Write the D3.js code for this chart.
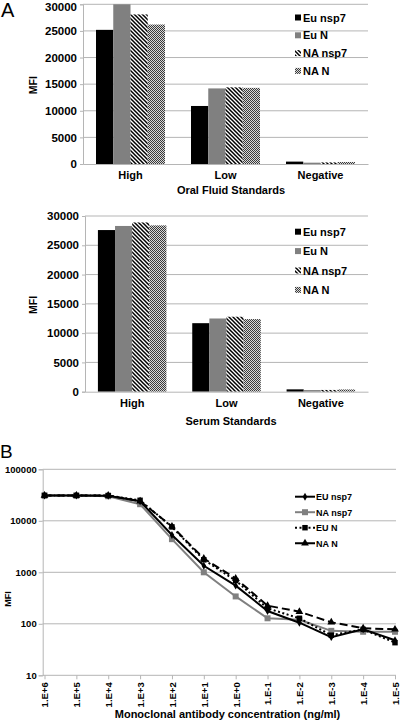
<!DOCTYPE html>
<html><head><meta charset="utf-8">
<script src="https://cdn.jsdelivr.net/npm/d3@7"></script>
<style>
body{margin:0;background:#fff;}
svg{display:block;font-family:"Liberation Sans",Arial,sans-serif;}
</style></head>
<body><svg id="c" width="400" height="721"></svg>
<script>
// ---------- Data ----------
const barCategories = ["High", "Low", "Negative"];
const barSeries = ["Eu nsp7", "Eu N", "NA nsp7", "NA N"];
const barTicks = [0, 5000, 10000, 15000, 20000, 25000, 30000];
// Oral fluid standards
const oralEuNsp7 = [25200, 10900, 450];
const oralEuN    = [30000, 14200, 250];
const oralNaNsp7 = [28100, 14400, 300];
const oralNaN    = [26200, 14300, 380];
// Serum standards
const serumEuNsp7 = [27600, 11700, 400];
const serumEuN    = [28300, 12500, 280];
const serumNaNsp7 = [28900, 12800, 300];
const serumNaN    = [28400, 12400, 380];

const concLabels = ["1.E+6","1.E+5","1.E+4","1.E+3","1.E+2","1.E+1","1.E+0","1.E-1","1.E-2","1.E-3","1.E-4","1.E-5"];
const lineSeries = ["EU nsp7", "NA nsp7", "EU N", "NA N"];
const euNsp7 = [31000, 31000, 30500, 24000, 5300, 1340, 550, 177, 105, 55, 78, 48];
const naNsp7 = [31000, 31000, 30000, 21000, 4400, 1000, 340, 128, 120, 73, 70, 70];
const euN    = [31000, 31000, 31000, 25000, 7600, 1750, 690, 200, 128, 60, 78, 43];
const naN    = [31000, 31000, 31000, 24000, 7800, 1850, 760, 225, 172, 107, 82, 78];
const logTicks = [10, 100, 1000, 10000, 100000];

// ---------- Setup ----------
const svg = d3.select("#c");
svg.append("rect").attr("width",400).attr("height",721).attr("fill","#fff");
const defs = svg.append("defs");
const hatch = defs.append("pattern").attr("id","hatch").attr("patternUnits","userSpaceOnUse")
  .attr("width",4).attr("height",4);
hatch.append("rect").attr("width",4).attr("height",4).attr("fill","#fff");
hatch.append("path").attr("d","M-1,-1L5,5M3,-1L5,1M-1,3L1,5").attr("stroke","#000").attr("stroke-width",1.5);
const checker = defs.append("pattern").attr("id","checker").attr("patternUnits","userSpaceOnUse")
  .attr("width",2).attr("height",2);
checker.append("rect").attr("width",2).attr("height",2).attr("fill","#d8d8d8");
checker.append("rect").attr("width",1).attr("height",1).attr("fill","#3a3a3a");
checker.append("rect").attr("x",1).attr("y",1).attr("width",1).attr("height",1).attr("fill","#3a3a3a");

const barFills = ["#000", "#808080", "url(#hatch)", "url(#checker)"];
const gridColor = "#b5b5b5";

function barChart(o) {
  const x = d3.scaleBand().domain(barCategories).range([o.x0, o.x1]).padding(0);
  const xs = d3.scaleBand().domain(barSeries).range([0, x.bandwidth()]).paddingInner(0).paddingOuter(0.754);
  const y = d3.scaleLinear().domain([0, 30000]).range([o.y0, o.y1]);
  const g = svg.append("g");
  // grid
  g.selectAll("line.grid").data(barTicks.filter(d => d > 0)).join("line")
    .attr("x1", o.x0).attr("x2", o.x1).attr("y1", d => y(d)).attr("y2", d => y(d))
    .attr("stroke", gridColor).attr("stroke-width", 1);
  // y axis
  const ya = g.append("g").attr("transform", `translate(${o.x0},0)`)
    .call(d3.axisLeft(y).tickValues(barTicks).tickSize(3).tickPadding(3).tickFormat(d3.format("d")));
  ya.select(".domain").attr("stroke", gridColor);
  ya.selectAll(".tick line").attr("stroke", gridColor);
  ya.selectAll("text").attr("font-size", 11.5).attr("font-weight", "bold").attr("fill", "#000")
    .attr("font-family", "Liberation Sans, Arial, sans-serif")
    .attr("y", d => (y(d) < 8 ? 2.8 : 0));
  // bars
  const data = o.values;
  barSeries.forEach((s, i) => {
    g.selectAll(null).data(barCategories).join("rect")
      .attr("x", c => x(c) + xs(s)).attr("width", xs.bandwidth())
      .attr("y", (c, j) => y(data[i][j])).attr("height", (c, j) => y(0) - y(data[i][j]))
      .attr("fill", barFills[i]);
  });
  // x axis
  const xa = g.append("g").attr("transform", `translate(0,${o.y0})`)
    .call(d3.axisBottom(x).tickSize(0).tickPadding(0));
  xa.select(".domain").attr("stroke", gridColor);
  xa.selectAll("text").attr("font-size", 11).attr("font-weight", "bold").attr("fill", "#000")
    .attr("dy", null).attr("y", o.catDy).attr("font-family", "Liberation Sans, Arial, sans-serif");
  // titles
  g.append("text").attr("x", 231).attr("y", o.titleY).attr("text-anchor", "middle")
    .attr("font-size", 11).attr("font-weight", "bold").text(o.title);
  g.append("text").attr("transform", `translate(37,${(o.y0 + o.y1) / 2 + 1}) rotate(-90)`)
    .attr("text-anchor", "middle").attr("font-size", 10.5).attr("font-weight", "bold").text("MFI");
  // legend
  barSeries.forEach((s, i) => {
    const cy = o.legY + i * o.legStep;
    g.append("rect").attr("x", 295).attr("y", cy - 3).attr("width", 6).attr("height", 6).attr("fill", barFills[i]);
    g.append("text").attr("x", 303).attr("y", cy + 4).attr("font-size", 11).attr("font-weight", "bold").text(s);
  });
}

barChart({x0: 83, x1: 368, y0: 164, y1: 4.3, catDy: 15, titleY: 194, title: "Oral Fluid Standards",
  values: [oralEuNsp7, oralEuN, oralNaNsp7, oralNaN], legY: 17.5, legStep: 17.8});
barChart({x0: 85, x1: 368, y0: 391.7, y1: 216, catDy: 15, titleY: 425, title: "Serum Standards",
  values: [serumEuNsp7, serumEuN, serumNaNsp7, serumNaN], legY: 231.7, legStep: 19.4});

svg.append("text").attr("x", 1).attr("y", 17).attr("font-size", 20).text("A");
svg.append("text").attr("x", 0).attr("y", 458).attr("font-size", 19).text("B");

// ---------- Line chart ----------
const xB = d3.scalePoint().domain(concLabels).range([44.5, 395]);
const yB = d3.scaleLog().domain([10, 100000]).range([675.3, 469.3]);
const gB = svg.append("g");
gB.selectAll("line.grid").data(logTicks.filter(d => d > 10)).join("line")
  .attr("x1", 42.7).attr("x2", 396).attr("y1", d => yB(d)).attr("y2", d => yB(d))
  .attr("stroke", gridColor);
const yaB = gB.append("g").attr("transform", "translate(42.7,0)")
  .call(d3.axisLeft(yB).tickValues(logTicks).tickSize(4).tickPadding(2).tickFormat(d3.format("d")));
yaB.select(".domain").attr("stroke", gridColor);
yaB.selectAll(".tick line").attr("stroke", gridColor);
yaB.selectAll("text").attr("font-size", 9.5).attr("font-weight", "bold").attr("fill", "#000")
  .attr("font-family", "Liberation Sans, Arial, sans-serif");
const xaB = gB.append("g").attr("transform", "translate(0,675.3)")
  .call(d3.axisBottom(xB).tickSize(4).tickSizeOuter(0).tickPadding(0));
xaB.select(".domain").attr("stroke", gridColor).attr("d", "M42.7,0H396");
xaB.selectAll(".tick line").attr("stroke", gridColor);
xaB.selectAll("text").attr("font-size", 9.5).attr("font-weight", "bold").attr("fill", "#000")
  .attr("font-family", "Liberation Sans, Arial, sans-serif")
  .attr("text-anchor", "end").attr("dy", "0.35em").attr("y", 0)
  .attr("transform", "translate(0,7) rotate(-90)");
gB.append("text").attr("x", 227.5).attr("y", 718).attr("text-anchor", "middle")
  .attr("font-size", 11).attr("font-weight", "bold").text("Monoclonal antibody concentration (ng/ml)");
gB.append("text").attr("transform", "translate(11,599) rotate(-90)").attr("text-anchor", "middle")
  .attr("font-size", 9).attr("font-weight", "bold").text("MFI");

const lineStyles = [
  {data: euNsp7, color: "#000", dash: null, marker: "diamond", msize: 18},
  {data: naNsp7, color: "#808080", dash: null, marker: "square", msize: 36},
  {data: euN, color: "#000", dash: "2,2.5", marker: "square", msize: 30},
  {data: naN, color: "#000", dash: "8,4", marker: "triangle", msize: 26}
];
const symType = {diamond: d3.symbolDiamond, square: d3.symbolSquare, triangle: d3.symbolTriangle};
const line = d3.line().x((d, i) => xB(concLabels[i])).y(d => yB(d));
const drawOrder = [1, 0, 2, 3];
drawOrder.forEach(k => {
  const st = lineStyles[k];
  gB.append("path").attr("d", line(st.data)).attr("fill", "none").attr("stroke", st.color)
    .attr("stroke-width", 2).attr("stroke-dasharray", st.dash);
  gB.selectAll(null).data(st.data).join("path")
    .attr("transform", (d, i) => `translate(${xB(concLabels[i])},${yB(d)})`)
    .attr("d", d3.symbol().type(symType[st.marker]).size(st.msize)).attr("fill", st.color);
});
// legend
lineSeries.forEach((s, i) => {
  const st = lineStyles[i];
  const cy = 496.7 + i * 15.5;
  gB.append("line").attr("x1", 295).attr("x2", 315).attr("y1", cy).attr("y2", cy)
    .attr("stroke", st.color).attr("stroke-width", 2).attr("stroke-dasharray", st.dash);
  gB.append("path").attr("transform", `translate(305,${cy})`)
    .attr("d", d3.symbol().type(symType[st.marker]).size(st.msize)).attr("fill", st.color);
  gB.append("text").attr("x", 316).attr("y", cy + 3.3).attr("font-size", 9).attr("font-weight", "bold").text(s);
});
</script></body></html>
